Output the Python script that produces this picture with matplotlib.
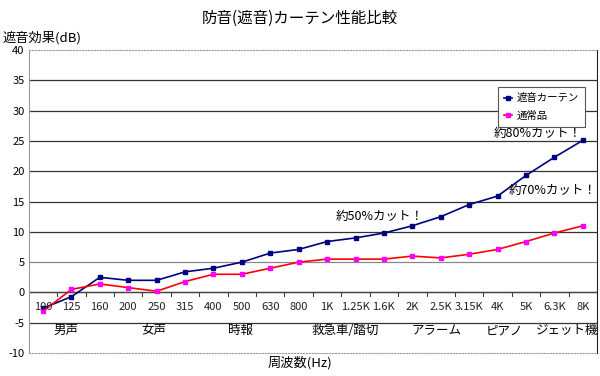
import numpy as np
import matplotlib
matplotlib.use("Agg")
import matplotlib.pyplot as plt

plt.rcParams['font.family'] = 'Noto Sans CJK JP'
plt.rcParams['axes.unicode_minus'] = False

freqs = ["100", "125", "160", "200", "250", "315", "400", "500", "630", "800",
         "1K", "1.25K", "1.6K", "2K", "2.5K", "3.15K", "4K", "5K", "6.3K", "8K"]
curtain = [-2.6, -0.7, 2.5, 2.0, 2.0, 3.4, 4.0, 5.0, 6.5, 7.1,
           8.4, 9.0, 9.8, 11.0, 12.5, 14.5, 15.9, 19.3, 22.3, 25.1]
normal = [-3.1, 0.5, 1.4, 0.8, 0.2, 1.8, 3.0, 3.0, 4.0, 5.0,
          5.5, 5.5, 5.5, 6.0, 5.7, 6.3, 7.1, 8.4, 9.8, 11.0]
sources = ["男声", "女声", "時報", "救急車/踏切", "アラーム", "ピアノ", "ジェット機"]
source_pos = [0.8, 3.9, 6.95, 10.65, 13.85, 16.25, 18.45]
notes = ["約50%カット！", "約70%カット！", "約80%カット！"]
note_xy = [(10.3, 12.5), (16.4, 16.75), (15.85, 26.3)]

n = len(freqs)
x = np.arange(n)

fig = plt.figure(figsize=(6, 3.76), dpi=100)
ax = fig.add_axes([0.048, 0.061, 0.947, 0.806])
ax.set_xlim(-0.5, n - 0.5)
ax.set_ylim(-10, 40)

for y in range(-5, 40, 5):
    ax.axhline(y, color="#333333" if y != 5 else "#888888", lw=0.9, zorder=1)
ax.axhline(0, color="#444444", lw=0.9, zorder=1)
for b in np.arange(n - 1) + 0.5:
    ax.plot([b, b], [0, -0.6], color="#444444", lw=0.8, zorder=1)

ax.plot(x, curtain, color="#000080", lw=1.2, marker="s", ms=3, zorder=3,
        label="遮音カーテン")
ax.plot(x, normal, color="#ff0000", lw=1.2, marker="s", ms=3,
        mfc="#ff00ff", mec="#ff00ff", zorder=3, label="通常品")

for i, f in enumerate(freqs):
    ax.text(i, -2.4, f, ha="center", va="center", fontsize=8, color="#222222")
for p, s in zip(source_pos, sources):
    ax.text(p, -6.3, s, ha="center", va="center", fontsize=9)
for (nx, ny), t in zip(note_xy, notes):
    ax.text(nx, ny, t, ha="left", va="center", fontsize=9)

ax.set_xticks([])
ax.set_yticks(range(-10, 45, 5))
ax.tick_params(axis="y", length=0, labelsize=8, pad=3)
for side in ["top", "bottom"]:
    ax.spines[side].set_linestyle(":")
    ax.spines[side].set_color("#999999")
ax.spines["left"].set_color("#999999")
ax.spines["right"].set_color("#222222")

leg = ax.legend(loc="upper right", bbox_to_anchor=(0.979, 0.878), borderaxespad=0,
                fontsize=7.5, frameon=True, fancybox=False, edgecolor="#555555",
                framealpha=1, handlelength=0.8, handletextpad=0.4,
                borderpad=0.6, labelspacing=0.7)
leg.get_frame().set_linewidth(0.8)

fig.text(0.5, 0.952, "防音(遮音)カーテン性能比較", ha="center", va="center", fontsize=11.2)
fig.text(0.005, 0.899, "遮音効果(dB)", ha="left", va="center", fontsize=9.5)
fig.text(0.5, 0.035, "周波数(Hz)", ha="center", va="center", fontsize=9.5)

fig.savefig("out.png", dpi=100)
